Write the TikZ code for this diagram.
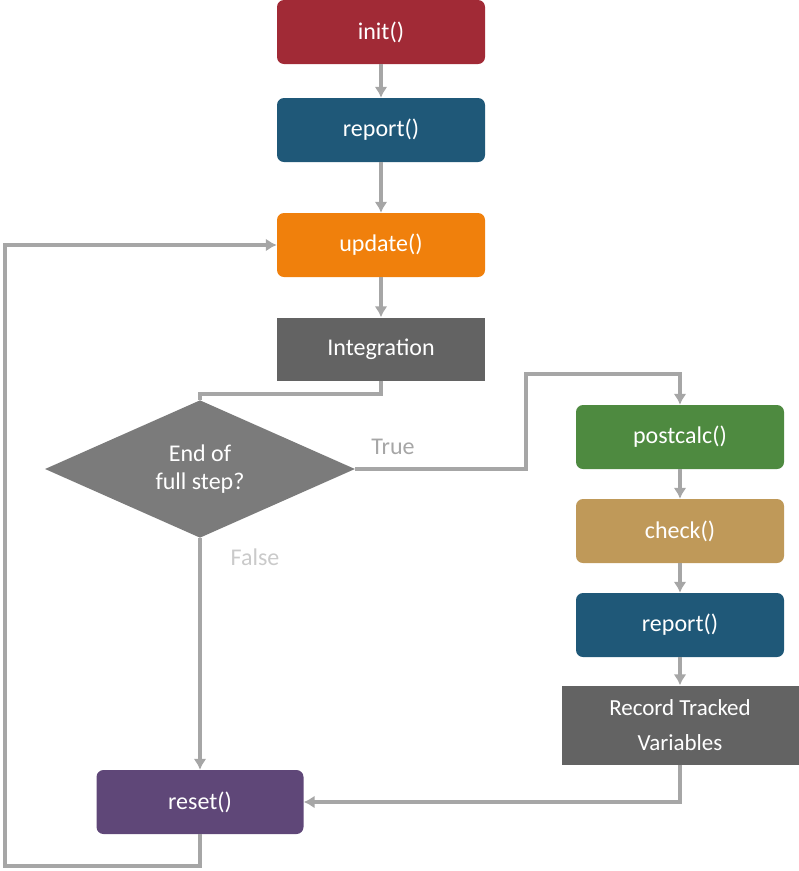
\documentclass[tikz,border=0pt]{standalone}
\usepackage{fontspec}
\setmainfont{Carlito}
\usetikzlibrary{shapes.geometric,arrows.meta}
\definecolor{cinit}{HTML}{A12A36}
\definecolor{cblue}{HTML}{1F5878}
\definecolor{corange}{HTML}{F0800C}
\definecolor{cdark}{HTML}{636363}
\definecolor{cdiam}{HTML}{7B7B7B}
\definecolor{cgreen}{HTML}{4E8A40}
\definecolor{ctan}{HTML}{BF9959}
\definecolor{cpurple}{HTML}{5F4778}
\definecolor{cline}{HTML}{A6A6A6}
\begin{document}
\begin{tikzpicture}[x=1pt,y=-1pt]
\tikzset{box/.style={draw=none,rounded corners=7pt,minimum width=208pt,minimum height=64pt,text=white,font=\fontsize{24}{28}\selectfont},
  flat/.style={box,rounded corners=0pt},
  link/.style={draw=cline,line width=4pt,-{Latex[length=11pt,width=13pt]}},
  lab/.style={font=\fontsize{24}{28}\selectfont}}
\useasboundingbox (0,0) rectangle (799,871);
% left column
\node [box,fill=cinit] (init) at (381,32) {init()};
\node [box,fill=cblue] (rep1) at (381,130) {report()};
\node [box,fill=corange] (upd) at (381,245) {update()};
\node [flat,fill=cdark,minimum height=63pt] (integ) at (381,349) {Integration};
\node [diamond,fill=cdiam,text=white,inner sep=0pt,minimum width=310pt,minimum height=124pt,align=center,lab] (step) at (200,469) {End of\\full step?};
\node [box,fill=cpurple,minimum width=207pt] (reset) at (200,802) {reset()};
% right column
\node [box,fill=cgreen] (post) at (680,437) {postcalc()};
\node [box,fill=ctan] (chk) at (680,531) {check()};
\node [box,fill=cblue] (rep2) at (680,625) {report()};
\node [flat,fill=cdark,minimum width=237pt,minimum height=79pt,align=center,font=\fontsize{23}{35}\selectfont] (rec) at (680,725) {Record Tracked\\Variables};
% connectors
\draw [link] (init) -- (rep1);
\draw [link] (rep1) -- (upd);
\draw [link] (upd) -- (integ);
\draw [draw=cline,line width=4pt] (integ.south) -- ++(0,13) -| (step.north);
\draw [link] (step.east) -| (526,374) -| (post.north);
\draw [link] (step.south) -- (reset.north);
\draw [link] (post) -- (chk);
\draw [link] (chk) -- (rep2);
\draw [link] (rep2) -- (rec);
\draw [link] (rec.south) |- (reset.east);
\draw [link] (reset.south) |- (5,866) |- (upd.west);
\node [lab,text=cline] at (393,447) {True};
\node [lab,text=cline!60] at (255,557) {False};
\end{tikzpicture}
\end{document}
